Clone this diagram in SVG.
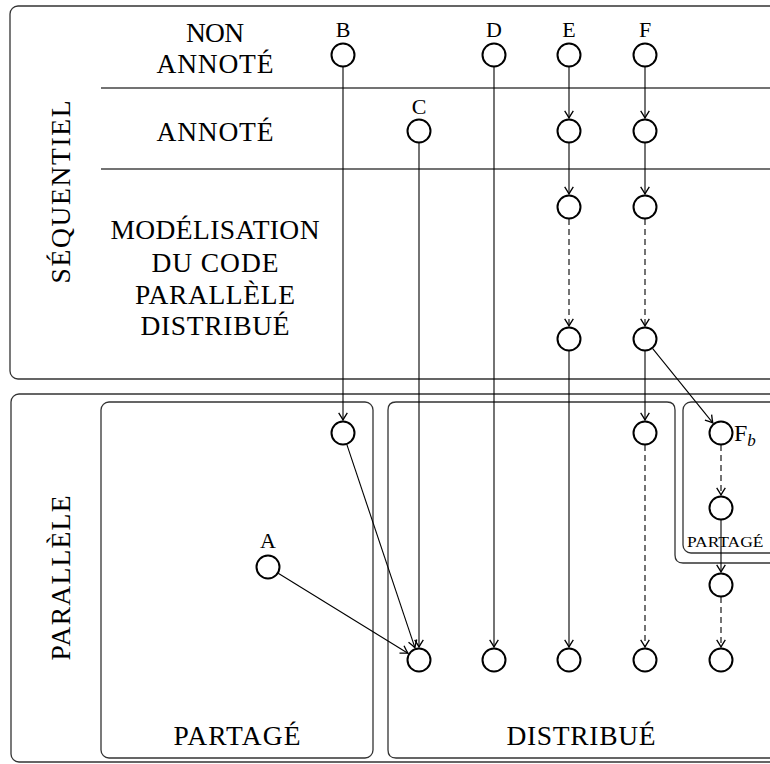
<svg xmlns="http://www.w3.org/2000/svg" width="770" height="764" viewBox="0 0 770 764">
<style>
.box{fill:none;stroke:#333;stroke-width:1.3}
.sep{fill:none;stroke:#444;stroke-width:1.3}
.node{fill:#fff;stroke:#000;stroke-width:2}
.e{fill:none;stroke:#000;stroke-width:1.1;marker-end:url(#arr)}
.d{stroke-dasharray:6 4}
text{font-family:"Liberation Serif","DejaVu Serif",serif;fill:#000}
.big{font-size:27.5px;text-anchor:middle}
.lbl{font-size:22px;text-anchor:middle}
.sc{font-size:14px}
</style>
<defs>
<marker id="arr" markerUnits="userSpaceOnUse" markerWidth="12" markerHeight="12" viewBox="-8 -5 10 10" refX="0" refY="0" orient="auto">
<path d="M-6,-3.6 Q-2,-1 0,0 Q-2,1 -6,3.6" fill="none" stroke="#000" stroke-width="1.1"/>
</marker>
</defs>

<g id="regions">
<rect class="box" x="10" y="6" width="800" height="373" rx="8"/>
<rect class="box" x="11" y="394" width="800" height="368" rx="8"/>
<line class="sep" x1="101" y1="88" x2="780" y2="88"/>
<line class="sep" x1="101" y1="169" x2="780" y2="169"/>
<rect class="box" x="101" y="402" width="272" height="356" rx="8"/>
<path class="box" d="M780,758 H396 Q388,758 388,750 V410 Q388,402 396,402 H667 Q675,402 675,410 V555 Q675,563 683,563 H780"/>
<rect class="box" x="683" y="402" width="100" height="151" rx="8"/>
</g>

<g id="labels">
<text class="big" transform="translate(70,192) rotate(-90)" textLength="183" lengthAdjust="spacing">SÉQUENTIEL</text>
<text class="big" transform="translate(70,578) rotate(-90)" textLength="165" lengthAdjust="spacing">PARALLÈLE</text>
<text class="big" x="215" y="42" textLength="58" lengthAdjust="spacing">NON</text>
<text class="big" x="215" y="73" textLength="117" lengthAdjust="spacing">ANNOTÉ</text>
<text class="big" x="215" y="141" textLength="117" lengthAdjust="spacing">ANNOTÉ</text>
<text class="big" x="215" y="239" textLength="209" lengthAdjust="spacing">MODÉLISATION</text>
<text class="big" x="215" y="272" textLength="127" lengthAdjust="spacing">DU CODE</text>
<text class="big" x="215" y="304" textLength="160" lengthAdjust="spacing">PARALLÈLE</text>
<text class="big" x="215" y="335" textLength="149" lengthAdjust="spacing">DISTRIBUÉ</text>
<text class="big" x="237" y="745" textLength="127" lengthAdjust="spacing">PARTAGÉ</text>
<text class="big" x="581" y="745" textLength="149" lengthAdjust="spacing">DISTRIBUÉ</text>
<text class="sc" transform="translate(687,547) scale(1.25,1)">PARTAGÉ</text>
</g>

<g id="connectors">
<line class="e" x1="343" y1="67" x2="343" y2="420"/>
<line class="e" x1="419" y1="143" x2="419" y2="647"/>
<line class="e" x1="494" y1="67" x2="494" y2="647"/>
<line class="e" x1="569" y1="67" x2="569" y2="118"/>
<line class="e" x1="569" y1="143" x2="569" y2="194"/>
<line class="e d" x1="569" y1="219" x2="569" y2="326"/>
<line class="e" x1="569" y1="351" x2="569" y2="647"/>
<line class="e" x1="645" y1="67" x2="645" y2="118"/>
<line class="e" x1="645" y1="143" x2="645" y2="194"/>
<line class="e d" x1="645" y1="219" x2="645" y2="326"/>
<line class="e" x1="645" y1="351" x2="645" y2="420"/>
<line class="e d" x1="645" y1="445" x2="645" y2="647"/>
<line class="e" x1="652.5" y1="348.3" x2="712.8" y2="422.9"/>
<line class="e d" x1="721" y1="445" x2="721" y2="495"/>
<line class="e" x1="721" y1="520" x2="721" y2="572"/>
<line class="e d" x1="721" y1="597" x2="721" y2="647"/>
<line class="e" x1="346.8" y1="444.4" x2="414.9" y2="647.7"/>
<line class="e" x1="278.2" y1="573.3" x2="407.9" y2="653.2"/>
</g>

<g id="nA"><circle class="node" cx="268" cy="567" r="11.5"/><text class="lbl" x="268" y="548">A</text></g>
<g id="nB"><circle class="node" cx="343" cy="55" r="11.5"/><text class="lbl" x="343" y="37">B</text></g>
<g id="nB2"><circle class="node" cx="343" cy="433" r="11.5"/></g>
<g id="nC"><circle class="node" cx="419" cy="131" r="11.5"/><text class="lbl" x="419" y="114">C</text></g>
<g id="nD"><circle class="node" cx="494" cy="55" r="11.5"/><text class="lbl" x="494" y="37">D</text></g>
<g id="nE"><circle class="node" cx="569" cy="55" r="11.5"/><text class="lbl" x="569" y="37">E</text></g>
<g id="nE2"><circle class="node" cx="569" cy="131" r="11.5"/></g>
<g id="nE3"><circle class="node" cx="569" cy="207" r="11.5"/></g>
<g id="nE4"><circle class="node" cx="569" cy="339" r="11.5"/></g>
<g id="nF"><circle class="node" cx="645" cy="55" r="11.5"/><text class="lbl" x="645" y="37">F</text></g>
<g id="nF2"><circle class="node" cx="645" cy="131" r="11.5"/></g>
<g id="nF3"><circle class="node" cx="645" cy="207" r="11.5"/></g>
<g id="nF4"><circle class="node" cx="645" cy="339" r="11.5"/></g>
<g id="nF5"><circle class="node" cx="645" cy="433" r="11.5"/></g>
<g id="nFb"><circle class="node" cx="721" cy="433" r="11.5"/><text x="734" y="441" style="font-size:24px">F<tspan dy="5" style="font-size:17px;font-style:italic">b</tspan></text></g>
<g id="nFb2"><circle class="node" cx="721" cy="508" r="11.5"/></g>
<g id="nFb3"><circle class="node" cx="721" cy="585" r="11.5"/></g>
<g id="nP1"><circle class="node" cx="419" cy="660" r="11.5"/></g>
<g id="nP2"><circle class="node" cx="494" cy="660" r="11.5"/></g>
<g id="nP3"><circle class="node" cx="569" cy="660" r="11.5"/></g>
<g id="nP4"><circle class="node" cx="645" cy="660" r="11.5"/></g>
<g id="nP5"><circle class="node" cx="721" cy="660" r="11.5"/></g>
</svg>
